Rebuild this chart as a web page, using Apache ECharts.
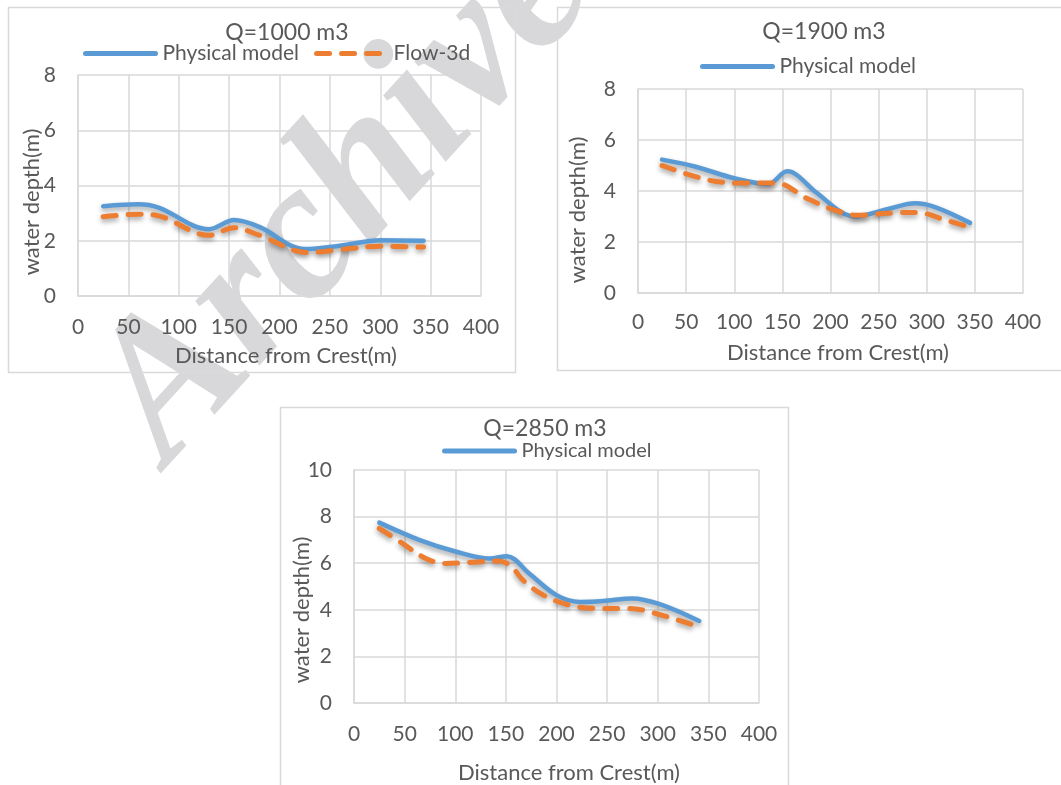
<!DOCTYPE html>
<html>
<head>
<meta charset="utf-8">
<script src="https://cdn.jsdelivr.net/npm/echarts@6/dist/echarts.min.js"></script>
<style>
html,body{margin:0;padding:0;background:#fff;}
#c{width:1061px;height:785px;}
</style>
</head>
<body>
<div id="c"></div>
<script>
// ---- data ----
const titles = ['Q=1000 m3', 'Q=1900 m3', 'Q=2850 m3'];
const seriesNames = ['Physical model', 'Flow-3d'];
const xTicks = [0, 50, 100, 150, 200, 250, 300, 350, 400];
const yMax = [8, 8, 10];

const c1PhysX = [25, 60, 80, 130, 155, 180, 225, 260, 300, 343];
const c1PhysY = [3.25, 3.32, 3.2, 2.42, 2.75, 2.5, 1.7, 1.82, 2.02, 2.0];
const c1FlowX = [25, 60, 80, 130, 155, 180, 228, 260, 300, 343];
const c1FlowY = [2.87, 2.96, 2.9, 2.2, 2.47, 2.2, 1.57, 1.68, 1.8, 1.77];

const c2PhysX = [25, 60, 100, 135, 155, 185, 210, 225, 260, 288, 310, 345];
const c2PhysY = [5.23, 4.95, 4.5, 4.27, 4.77, 3.95, 3.2, 3.0, 3.3, 3.52, 3.35, 2.75];
const c2FlowX = [25, 72, 106, 144, 175, 203, 227, 265, 290, 318, 343];
const c2FlowY = [5.0, 4.44, 4.31, 4.31, 3.72, 3.27, 3.05, 3.14, 3.16, 2.88, 2.6];

const c3PhysX = [25, 65, 101, 134, 151, 173, 200, 223, 246, 275, 302, 341];
const c3PhysY = [7.74, 6.99, 6.49, 6.2, 6.3, 5.56, 4.63, 4.34, 4.38, 4.49, 4.24, 3.52];
const c3FlowX = [25, 48, 68, 88, 114, 140, 154, 167, 187, 213, 240, 269, 289, 333];
const c3FlowY = [7.49, 6.85, 6.27, 5.99, 6.03, 6.1, 5.92, 5.27, 4.63, 4.2, 4.06, 4.06, 3.95, 3.38];

const xName = 'Distance from Crest(m)';
const yName = 'water depth(m)';
const watermark = 'Archive';

// ---- layout ----
const FONT = 'Lato';
const TXT = '#595959';
const GRIDC = '#d9d9d9';
const BLUE = '#5b9bd5';
const ORANGE = '#ed7d31';

const grids = [
  {left: 78, top: 75, width: 403, height: 221},
  {left: 638, top: 89, width: 385, height: 204},
  {left: 354, top: 470, width: 405, height: 233}
];
const boxes = [
  [8.5, 7.5, 507, 365],
  [557.5, 7.5, 520, 363],
  [280.5, 407.5, 508, 400]
];
const titlePos = [[287, 33], [824, 32], [545, 429]];
const legendPos = [[83, 55, 21], [700, 68, 21], [442, 453, 20]];
const xNamePos = [[286, 356], [838, 353], [569, 773]];
const yNamePos = [[32, 202], [578, 210], [302, 610]];

const zip = (xs, ys) => xs.map((x, i) => [x, ys[i]]);
const allData = [
  [zip(c1PhysX, c1PhysY), zip(c1FlowX, c1FlowY)],
  [zip(c2PhysX, c2PhysY), zip(c2FlowX, c2FlowY)],
  [zip(c3PhysX, c3PhysY), zip(c3FlowX, c3FlowY)]
];

const shadow = {shadowColor: 'rgba(0,0,0,0.35)', shadowBlur: 5, shadowOffsetY: 3};

const xAxes = [], yAxes = [], series = [], legends = [], graphics = [];

graphics.push({
  type: 'text', z: -5, x: 345, y: 196, rotation: 0.83,
  style: {text: watermark, font: 'italic bold 198px "Liberation Serif"', fill: 'rgba(190,190,194,0.6)', align: 'center', verticalAlign: 'middle'}
});

grids.forEach((g, k) => {
  xAxes.push({
    type: 'value', gridIndex: k, min: 0, max: 400, interval: 50,
    axisLine: {show: true, lineStyle: {color: GRIDC, width: 1.5}},
    axisTick: {show: false},
    splitLine: {show: true, lineStyle: {color: GRIDC, width: 1.5}},
    axisLabel: {color: TXT, fontFamily: FONT, fontSize: 21, margin: k === 1 ? 19 : 21,
      formatter: v => xTicks.indexOf(v) >= 0 ? String(v) : ''}
  });
  yAxes.push({
    type: 'value', gridIndex: k, min: 0, max: yMax[k], interval: 2,
    axisLine: {show: true, lineStyle: {color: GRIDC, width: 1.5}},
    axisTick: {show: false},
    splitLine: {show: true, lineStyle: {color: GRIDC, width: 1.5}},
    axisLabel: {color: TXT, fontFamily: FONT, fontSize: 21, margin: 22}
  });
  series.push({
    name: seriesNames[0], type: 'line', xAxisIndex: k, yAxisIndex: k,
    data: allData[k][0], smooth: 0.35, symbol: 'none', z: 3,
    lineStyle: Object.assign({color: BLUE, width: 4.5, cap: 'round'}, shadow),
    itemStyle: {color: BLUE}
  });
  series.push({
    name: seriesNames[1], type: 'line', xAxisIndex: k, yAxisIndex: k,
    data: allData[k][1], smooth: 0.35, symbol: 'none', z: 4,
    lineStyle: Object.assign({color: ORANGE, width: 5, type: [13, 12], cap: 'round'}, shadow),
    itemStyle: {color: ORANGE}
  });
  const lp = legendPos[k];
  legends.push({
    left: lp[0], top: lp[1] - 12, itemWidth: 70, itemHeight: 14, itemGap: 15,
    padding: 0, selectedMode: false,
    itemStyle: {opacity: 0},
    lineStyle: {width: 5, shadowBlur: 0, shadowOffsetY: 0, shadowColor: 'transparent'},
    data: k === 0 ? seriesNames.slice() : [seriesNames[0]],
    textStyle: {color: TXT, fontFamily: FONT, fontSize: lp[2], padding: [0, 0, 0, 2]}
  });
  graphics.push({
    type: 'rect', z: 0, silent: true,
    shape: {x: boxes[k][0], y: boxes[k][1], width: boxes[k][2], height: boxes[k][3]},
    style: {fill: 'none', stroke: GRIDC, lineWidth: 1.5}
  });
  graphics.push({
    type: 'text', z: 5, x: titlePos[k][0], y: titlePos[k][1],
    style: {text: titles[k], font: '23px ' + FONT, fill: TXT, align: 'center', verticalAlign: 'middle'}
  });
  graphics.push({
    type: 'text', z: 5, x: xNamePos[k][0], y: xNamePos[k][1],
    style: {text: xName, font: '22px ' + FONT, fill: TXT, align: 'center', verticalAlign: 'middle'}
  });
  graphics.push({
    type: 'text', z: 5, x: yNamePos[k][0], y: yNamePos[k][1], rotation: Math.PI / 2,
    style: {text: yName, font: '22px ' + FONT, fill: TXT, align: 'center', verticalAlign: 'middle'}
  });
});

const chart = echarts.init(document.getElementById('c'), null, {renderer: 'canvas'});
chart.setOption({
  backgroundColor: '#ffffff',
  animation: false,
  grid: grids,
  xAxis: xAxes,
  yAxis: yAxes,
  legend: legends,
  series: series,
  graphic: graphics
});
</script>
</body>
</html>
